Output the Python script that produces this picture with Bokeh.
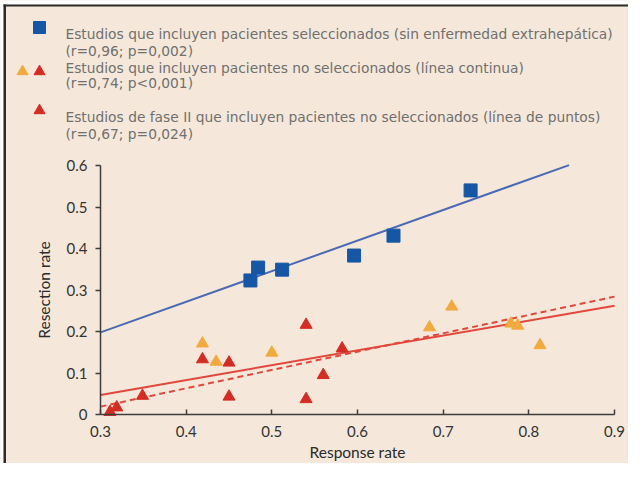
from bokeh.plotting import figure
from bokeh.models import FixedTicker, BoxAnnotation, Range1d
from bokeh.core.properties import value
from bokeh.embed import file_html
from bokeh.resources import INLINE

# ---- data ----
selected_response = [0.475, 0.484, 0.512, 0.596, 0.642, 0.732]
selected_resection = [0.323, 0.354, 0.349, 0.383, 0.431, 0.540]

phase2_response = [0.311, 0.319, 0.349, 0.419, 0.450, 0.450, 0.540, 0.540, 0.560, 0.582]
phase2_resection = [0.006, 0.017, 0.045, 0.133, 0.125, 0.043, 0.216, 0.037, 0.095, 0.159]

other_response = [0.419, 0.435, 0.500, 0.684, 0.710, 0.779, 0.787, 0.813]
other_resection = [0.171, 0.127, 0.149, 0.210, 0.260, 0.219, 0.214, 0.167]

fit_selected_x = [0.30, 0.847]
fit_selected_y = [0.198, 0.601]
fit_unselected_x = [0.30, 0.90]
fit_unselected_y = [0.047, 0.262]
fit_phase2_x = [0.30, 0.90]
fit_phase2_y = [0.019, 0.284]

x_ticks = [0.3, 0.4, 0.5, 0.6, 0.7, 0.8, 0.9]
x_tick_labels = ["0.3", "0.4", "0.5", "0.6", "0.7", "0.8", "0.9"]
y_ticks = [0, 0.1, 0.2, 0.3, 0.4, 0.5, 0.6]
y_tick_labels = ["0", "0.1", "0.2", "0.3", "0.4", "0.5", "0.6"]

legend_lines = [
    "Estudios que incluyen pacientes seleccionados (sin enfermedad extrahepática)",
    "(r=0,96; p=0,002)",
    "Estudios que incluyen pacientes no seleccionados (línea continua)",
    "(r=0,74; p<0,001)",
    "Estudios de fase II que incluyen pacientes no seleccionados (línea de puntos)",
    "(r=0,67; p=0,024)",
]

BG = "#f5e8da"
BLUE = "#1656a6"
BLUE_LINE = "#4a69b4"
RED = "#d62b22"
RED_LINE = "#e2473d"
ORANGE = "#f2aa3c"
AXIS = "#3d3d3d"
TEXT = "#707070"

W, H = 628, 463
# frame covers the whole canvas; axes are pinned inside it
p = figure(width=W, height=H, output_backend="svg", toolbar_location=None,
           x_range=Range1d(0.18327, 0.91632), y_range=Range1d(-0.11807, 0.99759),
           min_border=0)
p.background_fill_color = BG
p.border_fill_color = BG
p.outline_line_color = None
p.grid.grid_line_color = None

# regression lines
p.line(fit_selected_x, fit_selected_y, line_color=BLUE_LINE, line_width=2)
p.line(fit_unselected_x, fit_unselected_y, line_color=RED_LINE, line_width=2)
p.line(fit_phase2_x, fit_phase2_y, line_color=RED_LINE, line_width=2, line_dash="6 4")

# points
p.scatter(other_response, other_resection, marker="triangle", size=12,
          fill_color=ORANGE, line_color=ORANGE)
p.scatter(phase2_response, phase2_resection, marker="triangle", size=12,
          fill_color=RED, line_color=RED)
p.scatter(selected_response, selected_resection, marker="square", size=13,
          fill_color=BLUE, line_color=BLUE)

# axes
for ax in (p.xaxis[0], p.yaxis[0]):
    ax.axis_line_color = AXIS
    ax.axis_line_width = 1.5
    ax.major_tick_line_color = AXIS
    ax.major_tick_line_width = 1.5
    ax.minor_tick_line_color = None
    ax.major_label_text_font = "Lato"
    ax.major_label_text_font_size = "15px"
    ax.major_label_text_color = "#333333"
    ax.axis_label_text_font = "Lato"
    ax.axis_label_text_font_size = "15.5px"
    ax.axis_label_text_font_style = "normal"
    ax.axis_label_text_color = "#2a2a2a"

xa = p.xaxis[0]
xa.fixed_location = 0
xa.bounds = (0.3, 0.9)
xa.ticker = FixedTicker(ticks=x_ticks)
xa.major_label_overrides = dict(zip(x_ticks, x_tick_labels))
xa.major_tick_in = 5
xa.major_tick_out = 0
xa.major_label_standoff = 11
xa.axis_label = "Response rate"
xa.axis_label_standoff = 3

ya = p.yaxis[0]
ya.fixed_location = 0.3
ya.bounds = (0, 0.6)
ya.ticker = FixedTicker(ticks=y_ticks)
ya.major_label_overrides = dict(zip(y_ticks, y_tick_labels))
ya.major_tick_in = 0
ya.major_tick_out = 5
ya.major_label_standoff = 8
ya.axis_label = "Resection rate"
ya.axis_label_standoff = 11

# legend text
p.text(x=[0.2591] * 6, y=[0.918, 0.877, 0.836, 0.798, 0.718, 0.677], text=legend_lines,
       text_font=value("DejaVu Sans"), text_font_size="13.8px", text_color=TEXT,
       text_baseline="middle", text_align="left")

# legend symbols
p.scatter([0.2288], [0.9325], marker="square", size=12, fill_color=BLUE, line_color=BLUE)
p.scatter([0.2090], [0.8265], marker="triangle", size=11, fill_color=ORANGE, line_color=ORANGE)
p.scatter([0.2288, 0.2288], [0.8265, 0.7325], marker="triangle", size=11,
          fill_color=RED, line_color=RED)

# panel edge: white strip, dark top and left rules
def canvas_box(left, right, top, bottom, color):
    p.add_layout(BoxAnnotation(left=left, right=right, top=top, bottom=bottom,
                               left_units="canvas", right_units="canvas",
                               top_units="canvas", bottom_units="canvas",
                               fill_color=color, fill_alpha=1, line_color=None))

canvas_box(0, W, 0, 4, "white")
canvas_box(0, 3, 0, H, "white")
canvas_box(3, W, 4, 6, "#2b2b2b")
canvas_box(3, 5.5, 4, H, "#2b2b2b")

open("out.html", "w").write(file_html(p, INLINE))
